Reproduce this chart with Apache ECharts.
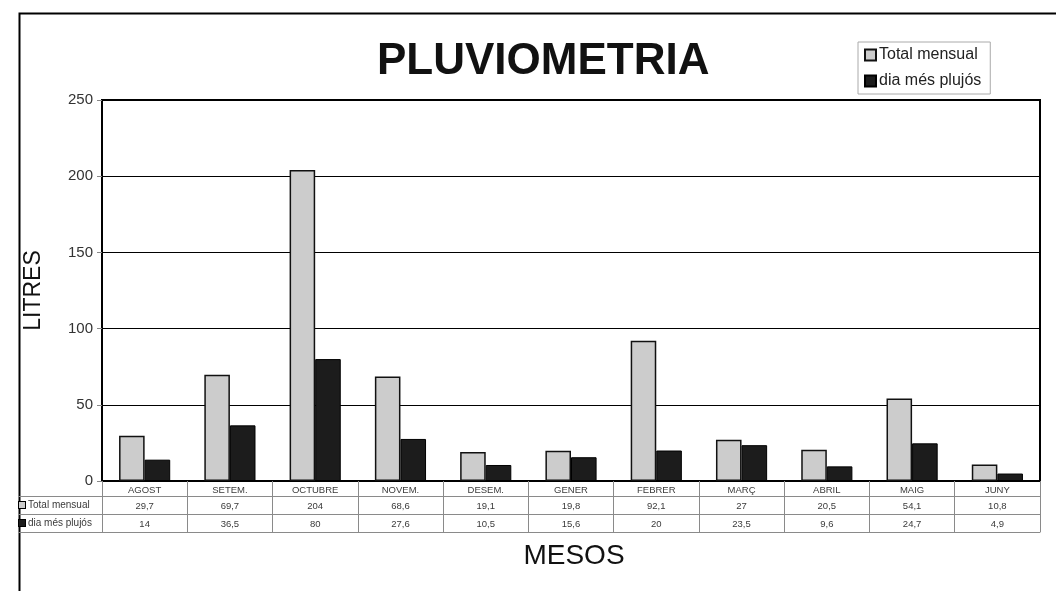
<!DOCTYPE html>
<html>
<head>
<meta charset="utf-8">
<script src="https://cdn.jsdelivr.net/npm/echarts@6/dist/echarts.min.js"></script>
<style>html,body{margin:0;padding:0;background:#fff}#c{width:1056px;height:591px}</style>
</head>
<body>
<div id="c"></div>
<script>
const months = ['AGOST','SETEM.','OCTUBRE','NOVEM.','DESEM.','GENER','FEBRER','MARÇ','ABRIL','MAIG','JUNY'];
const totalMensual = [29.7, 69.7, 204, 68.6, 19.1, 19.8, 92.1, 27, 20.5, 54.1, 10.8];
const diaMesPlujos = [14, 36.5, 80, 27.6, 10.5, 15.6, 20, 23.5, 9.6, 24.7, 4.9];
const yTicks = [0, 50, 100, 150, 200, 250];
const seriesNames = ['Total mensual', 'dia més plujós'];

const fmt = v => String(v).replace('.', ',');
const FONT = '"Liberation Sans", Arial, sans-serif';
const greyFill = '#cccccc';
const darkFill = '#1c1c1c';
const tableLine = '#8a8a8a';
const tableText = '#3a3a3a';

function tableAxis(values, offset, name, iconColor) {
  return {
    type: 'category', data: values.map(fmt), position: 'bottom', offset: offset,
    axisLine: {show: true, lineStyle: {color: tableLine, width: 1}},
    axisTick: {show: true, inside: false, length: 18, lineStyle: {color: tableLine, width: 1}},
    axisLabel: {interval: 0, fontSize: 9.5, color: tableText, fontFamily: FONT, margin: 5},
    splitLine: {show: false},
    name: '{i|}{t|' + name + '}',
    nameLocation: 'start', nameGap: 83,
    nameTextStyle: {
      align: 'left', verticalAlign: 'top', padding: [4, 0, 0, 0],
      rich: {
        i: {width: 6, height: 6, backgroundColor: iconColor, borderColor: '#000', borderWidth: 1},
        t: {fontSize: 10, color: tableText, fontFamily: FONT, padding: [0, 0, 0, 3]}
      }
    }
  };
}

const option = {
  animation: false,
  backgroundColor: '#fff',
  textStyle: {fontFamily: FONT},
  title: [{
    text: 'PLUVIOMETRIA', left: 372, top: 35,
    textStyle: {fontSize: 44, fontWeight: 'bold', color: '#111', fontFamily: FONT}
  }],
  legend: {
    data: seriesNames, orient: 'vertical', left: 858, top: 42,
    borderColor: '#aaa', borderWidth: 1, padding: [5, 9, 5, 6], itemGap: 10,
    itemWidth: 11, itemHeight: 11, icon: 'rect',
    textStyle: {fontSize: 16, color: '#222', fontFamily: FONT, padding: [0, 0, 0, -2]}
  },
  grid: {left: 102, right: 16, top: 100, bottom: 110, show: true, borderColor: '#000', borderWidth: 2, containLabel: false},
  yAxis: {
    type: 'value', min: yTicks[0], max: yTicks[yTicks.length - 1], interval: 50,
    name: 'LITRES', nameLocation: 'middle', nameRotate: 90, nameGap: 57,
    nameTextStyle: {fontSize: 23, color: '#111', fontFamily: FONT},
    axisLine: {show: true, lineStyle: {color: '#000', width: 2}},
    axisTick: {show: true, length: 5, lineStyle: {color: '#888'}},
    axisLabel: {fontSize: 15, color: '#333', fontFamily: FONT, margin: 9},
    splitLine: {show: true, lineStyle: {color: '#000', width: 1}}
  },
  xAxis: [
    {
      type: 'category', data: months, position: 'bottom', offset: 0,
      axisLine: {show: true, lineStyle: {color: '#000', width: 2}},
      axisTick: {show: true, inside: false, length: 15, lineStyle: {color: tableLine, width: 1}},
      axisLabel: {interval: 0, fontSize: 9.5, color: tableText, fontFamily: FONT, margin: 4}
    },
    tableAxis(totalMensual, 15, seriesNames[0], greyFill),
    tableAxis(diaMesPlujos, 33, seriesNames[1], darkFill),
    {
      type: 'category', data: months, position: 'bottom', offset: 51,
      axisLine: {show: true, lineStyle: {color: tableLine, width: 1}},
      axisTick: {show: false}, axisLabel: {show: false},
      name: 'MESOS', nameLocation: 'middle', nameGap: 10,
      nameTextStyle: {fontSize: 28, color: '#111', fontFamily: FONT, verticalAlign: 'top', padding: [0, 0, 0, 6]}
    }
  ],
  series: [
    {
      name: seriesNames[0], type: 'bar', xAxisIndex: 0, data: totalMensual,
      barGap: '0%', barCategoryGap: '40%',
      itemStyle: {color: greyFill, borderColor: '#111', borderWidth: 1.5}
    },
    {
      name: seriesNames[1], type: 'bar', xAxisIndex: 0, data: diaMesPlujos,
      itemStyle: {color: darkFill, borderColor: '#000', borderWidth: 1}
    }
  ],
  graphic: [
    {type: 'rect', left: 17, top: 11, silent: true, shape: {width: 1200, height: 700},
     style: {fill: 'none', stroke: '#000', lineWidth: 2}},
    {type: 'line', silent: true, shape: {x1: 18, y1: 496.5, x2: 102, y2: 496.5}, style: {stroke: tableLine, lineWidth: 1}},
    {type: 'line', silent: true, shape: {x1: 18, y1: 514.5, x2: 102, y2: 514.5}, style: {stroke: tableLine, lineWidth: 1}},
    {type: 'line', silent: true, shape: {x1: 18, y1: 532.5, x2: 102, y2: 532.5}, style: {stroke: tableLine, lineWidth: 1}}
  ]
};

echarts.init(document.getElementById('c'), null, {renderer: 'canvas'}).setOption(option);
</script>
</body>
</html>
